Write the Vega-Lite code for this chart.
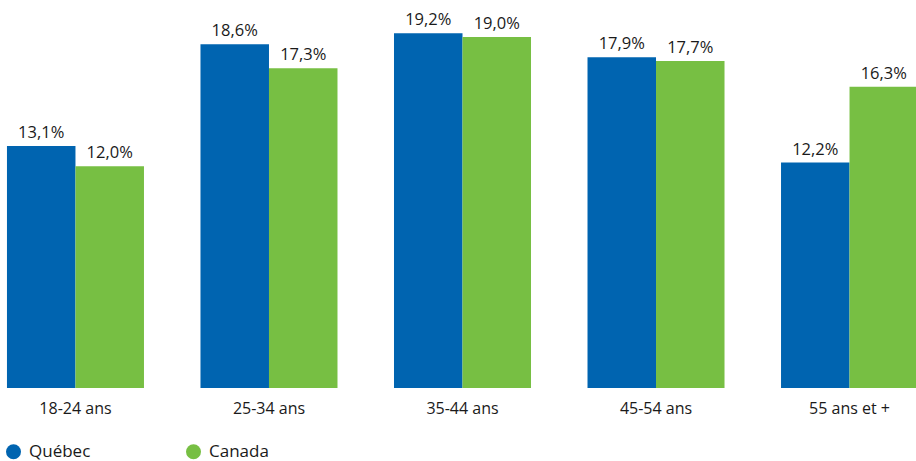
{
  "$schema": "https://vega.github.io/schema/vega-lite/v6.json",
  "width": 925,
  "height": 388,
  "padding": {"left": 0, "top": 0, "right": 0, "bottom": 73},
  "autosize": {"type": "none"},
  "background": "white",
  "config": {
    "view": {"stroke": null},
    "font": "Open Sans",
    "locale": {"number": {"decimal": ",", "thousands": " ", "grouping": [3], "currency": ["", " $"]}}
  },
  "data": {
    "values": [
      {"age": "18-24 ans", "region": "Québec", "value": 0.131},
      {"age": "18-24 ans", "region": "Canada", "value": 0.120},
      {"age": "25-34 ans", "region": "Québec", "value": 0.186},
      {"age": "25-34 ans", "region": "Canada", "value": 0.173},
      {"age": "35-44 ans", "region": "Québec", "value": 0.192},
      {"age": "35-44 ans", "region": "Canada", "value": 0.190},
      {"age": "45-54 ans", "region": "Québec", "value": 0.179},
      {"age": "45-54 ans", "region": "Canada", "value": 0.177},
      {"age": "55 ans et +", "region": "Québec", "value": 0.122},
      {"age": "55 ans et +", "region": "Canada", "value": 0.163}
    ]
  },
  "encoding": {
    "x": {
      "field": "age", "type": "nominal", "sort": null,
      "scale": {"paddingInner": 0.292, "paddingOuter": 0.036},
      "axis": {"title": null, "domain": false, "ticks": false, "labelAngle": 0, "labelFontSize": 16, "labelColor": "#1a1a1a", "labelPadding": 12, "labelFont": "Open Sans"}
    },
    "xOffset": {"field": "region", "type": "nominal", "sort": ["Québec", "Canada"], "scale": {"paddingInner": 0, "paddingOuter": 0}},
    "y": {"field": "value", "type": "quantitative", "scale": {"domain": [0, 0.21], "nice": false, "zero": true}, "axis": null}
  },
  "layer": [
    {
      "mark": {"type": "bar"},
      "encoding": {
        "color": {
          "field": "region", "type": "nominal", "sort": ["Québec", "Canada"],
          "scale": {"domain": ["Québec", "Canada"], "range": ["#0064b0", "#77bf43"]},
          "legend": {
            "title": null, "orient": "none", "legendX": 5, "legendY": 443, "direction": "horizontal",
            "symbolType": "circle", "symbolSize": 225, "symbolStrokeWidth": 0, "symbolOpacity": 1,
            "labelFontSize": 17, "labelColor": "#1a1a1a", "labelOffset": 7, "columnPadding": 94, "labelFont": "Open Sans"
          }
        }
      }
    },
    {
      "mark": {"type": "text", "baseline": "bottom", "dy": -5, "fontSize": 16.5, "color": "#1a1a1a"},
      "encoding": {
        "text": {"field": "value", "type": "quantitative", "format": ".1%"}
      }
    }
  ]
}
